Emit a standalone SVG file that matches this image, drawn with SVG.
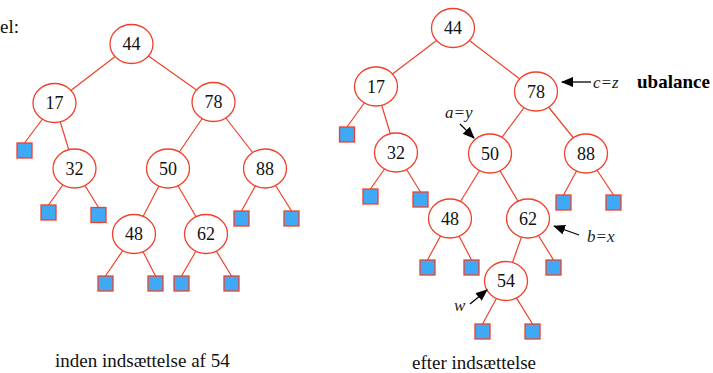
<svg xmlns="http://www.w3.org/2000/svg" width="713" height="373" viewBox="0 0 713 373">
  <style>
    .serif { font-family: "Liberation Serif", Tinos, "Times New Roman", "DejaVu Serif", "Noto Serif", serif; }
    .edge { stroke: #f0402a; stroke-width: 1.2; fill: none; }
    .node ellipse { fill: #ffffff; stroke: #f0402a; stroke-width: 1.3; }
    .node text { font-size: 18px; text-anchor: middle; fill: #111; }
    .leaf { fill: #3fa9f5; stroke: #f0402a; stroke-width: 1.3; }
    .ptr { stroke: #000; stroke-width: 1.3; fill: none; marker-end: url(#head); }
    .lbl { font-size: 17px; font-style: italic; fill: #222; }
    .cap { font-size: 19px; fill: #111; }
    .bold { font-size: 19px; font-weight: bold; fill: #000; }
  </style>
  <defs>
    <marker id="head" markerUnits="userSpaceOnUse" markerWidth="12" markerHeight="10" refX="11" refY="5" orient="auto">
      <path d="M0,0 L12,5 L0,10 Z" fill="#000"/>
    </marker>
  </defs>

  <rect width="713" height="373" fill="#ffffff"/>

  <g class="serif" font-family="Liberation Serif, Times New Roman, serif">
  <text class="cap" x="0" y="33">el:</text>

  <!-- connectors: drawn centre to centre, node shapes cover the inner ends -->
  <g id="connectors">
    <!-- tree before insertion -->
    <line class="edge" x1="131.5" y1="44" x2="54.5" y2="103"/>
    <line class="edge" x1="131.5" y1="44" x2="213.5" y2="102"/>
    <line class="edge" x1="54.5" y1="103" x2="24.5" y2="143"/>
    <line class="edge" x1="54.5" y1="103" x2="74.5" y2="168.5"/>
    <line class="edge" x1="74.5" y1="168.5" x2="48.5" y2="205"/>
    <line class="edge" x1="74.5" y1="168.5" x2="98.5" y2="207.5"/>
    <line class="edge" x1="213.5" y1="102" x2="168" y2="168.5"/>
    <line class="edge" x1="213.5" y1="102" x2="265" y2="168.5"/>
    <line class="edge" x1="168" y1="168.5" x2="134" y2="234"/>
    <line class="edge" x1="168" y1="168.5" x2="206" y2="234"/>
    <line class="edge" x1="134" y1="234" x2="105.5" y2="276"/>
    <line class="edge" x1="134" y1="234" x2="155.5" y2="276"/>
    <line class="edge" x1="206" y1="234" x2="181.5" y2="276"/>
    <line class="edge" x1="206" y1="234" x2="231.5" y2="276"/>
    <line class="edge" x1="265" y1="168.5" x2="241.5" y2="211"/>
    <line class="edge" x1="265" y1="168.5" x2="291.5" y2="211"/>
    <!-- tree after insertion -->
    <line class="edge" x1="453" y1="28" x2="376" y2="86.5"/>
    <line class="edge" x1="453" y1="28" x2="536" y2="91.5"/>
    <line class="edge" x1="376" y1="86.5" x2="347" y2="127"/>
    <line class="edge" x1="376" y1="86.5" x2="396" y2="152.5"/>
    <line class="edge" x1="396" y1="152.5" x2="370.5" y2="189"/>
    <line class="edge" x1="396" y1="152.5" x2="420.5" y2="192"/>
    <line class="edge" x1="536" y1="91.5" x2="490" y2="153.5"/>
    <line class="edge" x1="536" y1="91.5" x2="586" y2="153.5"/>
    <line class="edge" x1="490" y1="153.5" x2="450" y2="218.5"/>
    <line class="edge" x1="490" y1="153.5" x2="528" y2="218.5"/>
    <line class="edge" x1="450" y1="218.5" x2="427.5" y2="260"/>
    <line class="edge" x1="450" y1="218.5" x2="471.5" y2="260"/>
    <line class="edge" x1="528" y1="218.5" x2="506" y2="281"/>
    <line class="edge" x1="528" y1="218.5" x2="553.5" y2="260"/>
    <line class="edge" x1="506" y1="281" x2="482.5" y2="324"/>
    <line class="edge" x1="506" y1="281" x2="532.5" y2="324"/>
    <line class="edge" x1="586" y1="153.5" x2="563.5" y2="195"/>
    <line class="edge" x1="586" y1="153.5" x2="613.5" y2="195"/>
  </g>

  <!-- tree before insertion of 54 -->
  <g id="a44" class="node"><ellipse cx="131.5" cy="44" rx="21.5" ry="19.5"/><text x="131.5" y="50">44</text></g>
  <g id="a17" class="node"><ellipse cx="54.5" cy="103" rx="21.5" ry="19.5"/><text x="54.5" y="109">17</text></g>
  <g id="a78" class="node"><ellipse cx="213.5" cy="102" rx="21.5" ry="19.5"/><text x="213.5" y="108">78</text></g>
  <g id="a32" class="node"><ellipse cx="74.5" cy="168.5" rx="21.5" ry="19.5"/><text x="74.5" y="174.5">32</text></g>
  <g id="a50" class="node"><ellipse cx="168" cy="168.5" rx="21.5" ry="19.5"/><text x="168" y="174.5">50</text></g>
  <g id="a88" class="node"><ellipse cx="265" cy="168.5" rx="21.5" ry="19.5"/><text x="265" y="174.5">88</text></g>
  <g id="a48" class="node"><ellipse cx="134" cy="234" rx="21.5" ry="19.5"/><text x="134" y="240">48</text></g>
  <g id="a62" class="node"><ellipse cx="206" cy="234" rx="21.5" ry="19.5"/><text x="206" y="240">62</text></g>
  <g id="a-leaves">
    <rect class="leaf" x="17" y="143" width="15" height="15"/>
    <rect class="leaf" x="41" y="205" width="15" height="15"/>
    <rect class="leaf" x="91" y="207.5" width="15" height="15"/>
    <rect class="leaf" x="98" y="276" width="15" height="15"/>
    <rect class="leaf" x="148" y="276" width="15" height="15"/>
    <rect class="leaf" x="174" y="276" width="15" height="15"/>
    <rect class="leaf" x="224" y="276" width="15" height="15"/>
    <rect class="leaf" x="234" y="211" width="15" height="15"/>
    <rect class="leaf" x="284" y="211" width="15" height="15"/>
  </g>

  <!-- tree after insertion -->
  <g id="b44" class="node"><ellipse cx="453" cy="28" rx="21.5" ry="19.5"/><text x="453" y="34">44</text></g>
  <g id="b17" class="node"><ellipse cx="376" cy="86.5" rx="21.5" ry="19.5"/><text x="376" y="92.5">17</text></g>
  <g id="b78" class="node"><ellipse cx="536" cy="91.5" rx="21.5" ry="19.5"/><text x="536" y="97.5">78</text></g>
  <g id="b32" class="node"><ellipse cx="396" cy="152.5" rx="21.5" ry="19.5"/><text x="396" y="158.5">32</text></g>
  <g id="b50" class="node"><ellipse cx="490" cy="153.5" rx="21.5" ry="19.5"/><text x="490" y="159.5">50</text></g>
  <g id="b88" class="node"><ellipse cx="586" cy="153.5" rx="21.5" ry="19.5"/><text x="586" y="159.5">88</text></g>
  <g id="b48" class="node"><ellipse cx="450" cy="218.5" rx="21.5" ry="19.5"/><text x="450" y="224.5">48</text></g>
  <g id="b62" class="node"><ellipse cx="528" cy="218.5" rx="21.5" ry="19.5"/><text x="528" y="224.5">62</text></g>
  <g id="b54" class="node"><ellipse cx="506" cy="281" rx="21.5" ry="19.5"/><text x="506" y="287">54</text></g>
  <g id="b-leaves">
    <rect class="leaf" x="339.5" y="127" width="15" height="15"/>
    <rect class="leaf" x="363" y="189" width="15" height="15"/>
    <rect class="leaf" x="413" y="192" width="15" height="15"/>
    <rect class="leaf" x="420" y="260" width="15" height="15"/>
    <rect class="leaf" x="464" y="260" width="15" height="15"/>
    <rect class="leaf" x="546" y="260" width="15" height="15"/>
    <rect class="leaf" x="475" y="324" width="15" height="15"/>
    <rect class="leaf" x="525" y="324" width="15" height="15"/>
    <rect class="leaf" x="556" y="195" width="15" height="15"/>
    <rect class="leaf" x="606" y="195" width="15" height="15"/>
  </g>

  <!-- role pointers -->
  <g id="pointers">
    <line class="ptr" x1="591" y1="82" x2="562" y2="82"/>
    <line class="ptr" x1="460" y1="124" x2="474" y2="138"/>
    <line class="ptr" x1="579" y1="235" x2="554" y2="226"/>
    <line class="ptr" x1="470" y1="304" x2="487" y2="290"/>
    <text class="lbl" x="593" y="88">c=z</text>
    <text class="lbl" x="445" y="118">a=y</text>
    <text class="lbl" x="587" y="242">b=x</text>
    <text class="lbl" x="454" y="311">w</text>
    <text class="bold" x="637" y="88">ubalance</text>
  </g>

  <text class="cap" x="55" y="367">inden indsættelse af 54</text>
  <text class="cap" x="412" y="369">efter indsættelse</text>
  </g>
</svg>
